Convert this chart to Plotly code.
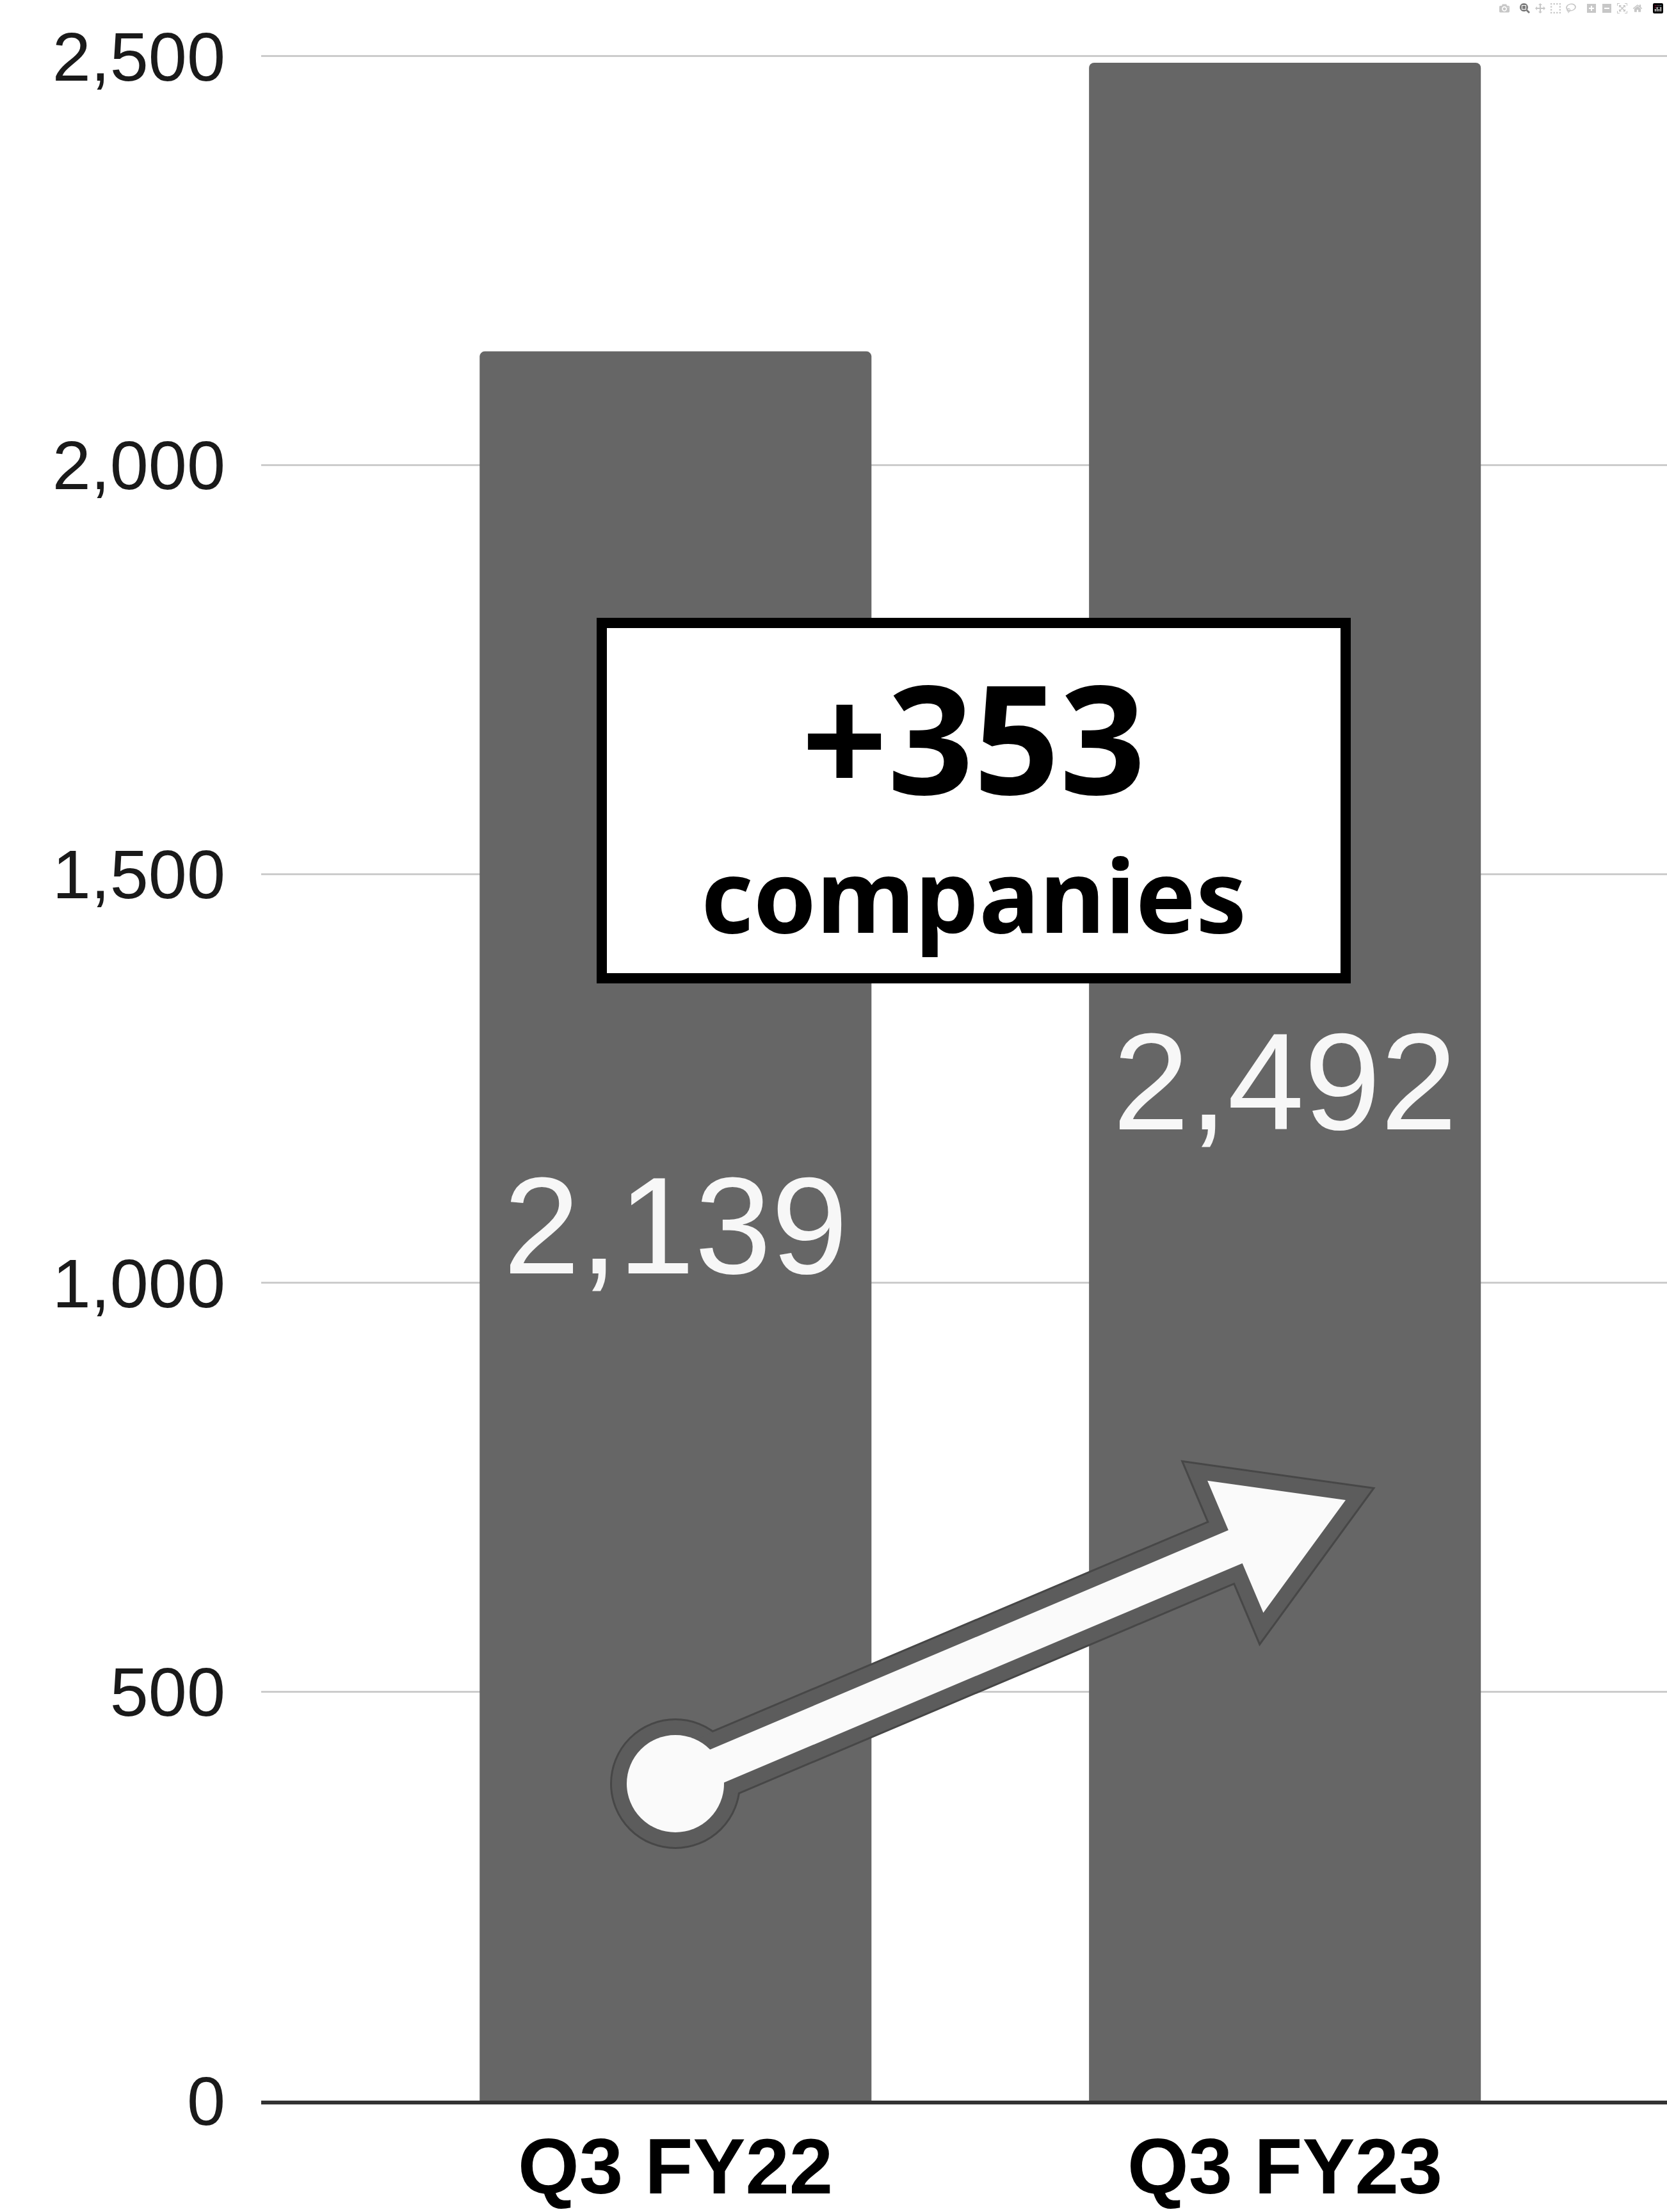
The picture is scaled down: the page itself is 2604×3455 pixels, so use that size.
import math
import plotly.graph_objects as go

# Data
quarters = ['Q3 FY22', 'Q3 FY23']
companies = [2139, 2492]
y_ticks = [0, 500, 1000, 1500, 2000, 2500]
change_label = '+353'
change_unit = 'companies'

W, H = 2604, 3455
ML, MR, MT, MB = 408, 0, 75, 174
x_range = [-0.68, 1.627]
y_range = [0, 2510]
plot_w = W - ML - MR
plot_h = H - MT - MB


# pixel -> data helpers for the decorations
def xd(px):
    return x_range[0] + (px - ML) / plot_w * (x_range[1] - x_range[0])


def yd(py):
    return y_range[1] * (MT + plot_h - py) / plot_h


fig = go.Figure()
fig.add_trace(go.Bar(
    x=[0, 1], y=companies,
    width=0.643,
    marker=dict(color='#666666', line=dict(width=0), cornerradius=8),
    texttemplate='%{y:,}',
    textposition='inside',
    insidetextanchor='middle',
    textangle=0,
    constraintext='none',
    textfont=dict(family='Liberation Sans, Arial', size=215, color='#f7f7f7'),
    hoverinfo='skip',
))

shapes = []

# arrow (white with grey outline)
cx, cy, r = 1055, 2786, 76
tip = (2102, 2343)
dx, dy = tip[0] - cx, tip[1] - cy
ln = math.hypot(dx, dy)
ux, uy = dx / ln, dy / ln
nx, ny = -uy, ux
hw, head_len, head_hw = 28, 187, 112
hb = (tip[0] - head_len * ux, tip[1] - head_len * uy)
pts = [
    (cx + hw * nx, cy + hw * ny),
    (hb[0] + hw * nx, hb[1] + hw * ny),
    (hb[0] + head_hw * nx, hb[1] + head_hw * ny),
    tip,
    (hb[0] - head_hw * nx, hb[1] - head_hw * ny),
    (hb[0] - hw * nx, hb[1] - hw * ny),
    (cx - hw * nx, cy - hw * ny),
]
path = 'M ' + ' L '.join(f'{xd(p[0])},{yd(p[1])}' for p in pts) + ' Z'
circ = dict(type='circle', xref='x', yref='y',
            x0=xd(cx - r), x1=xd(cx + r), y0=yd(cy + r), y1=yd(cy - r))

for lw, lc in [(52, '#474747'), (46, '#5c5c5c')]:
    shapes.append(dict(circ, fillcolor=lc, line=dict(color=lc, width=lw), layer='above'))
    shapes.append(dict(type='path', path=path, xref='x', yref='y', fillcolor=lc,
                       line=dict(color=lc, width=lw), layer='above'))
shapes.append(dict(circ, fillcolor='#fafafa', line=dict(width=0), layer='above'))
shapes.append(dict(type='path', path=path, xref='x', yref='y', fillcolor='#fafafa',
                   line=dict(width=0), layer='above'))

# callout box
shapes.append(dict(type='rect', xref='x', yref='y',
                   x0=xd(940), x1=xd(2102), y0=yd(1528), y1=yd(973),
                   fillcolor='white', line=dict(color='black', width=16), layer='above'))

annotations = [
    dict(x=xd(1521), y=yd(1150), xref='x', yref='y', text=f'<b>{change_label}</b>',
         showarrow=False, font=dict(family='Noto Sans', size=235, color='black')),
    dict(x=xd(1521), y=yd(1395), xref='x', yref='y', text=f'<b>{change_unit}</b>',
         showarrow=False, font=dict(family='Noto Sans', size=158, color='black')),
]
# category labels, kept fully inside the page bottom
for i, q in enumerate(quarters):
    annotations.append(dict(
        x=i, xref='x', y=-MB / plot_h + 0.0005, yref='paper',
        yanchor='bottom', xanchor='center', showarrow=False, borderpad=0,
        text=f'<b>{q}</b>',
        font=dict(family='Liberation Sans, Arial', size=123, color='black'),
    ))

fig.update_layout(
    width=W, height=H,
    margin=dict(l=ML, r=MR, t=MT, b=MB, pad=0),
    paper_bgcolor='white', plot_bgcolor='white',
    showlegend=False,
    shapes=shapes,
    annotations=annotations,
)
fig.update_xaxes(
    range=x_range, tickvals=[0, 1], showticklabels=False,
    showgrid=False, zeroline=False, automargin=False,
    showline=True, linecolor='#333333', linewidth=6, ticks='',
)
fig.update_yaxes(
    range=y_range, tickvals=y_ticks, tickformat=',',
    showgrid=True, gridcolor='#cccccc', gridwidth=3, automargin=False,
    zeroline=False, showline=False, ticks='', ticklabelstandoff=55,
    tickfont=dict(family='Liberation Sans, Arial', size=108, color='#1a1a1a'),
)

fig.write_html('out.html', post_script="document.body.style.margin='0';")
